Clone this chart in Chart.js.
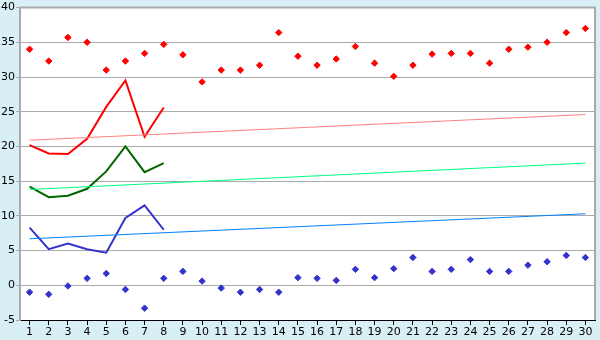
<!DOCTYPE html>
<html>
<head>
<meta charset="utf-8">
<title>chart</title>
<script src="https://cdn.jsdelivr.net/npm/chart.js"></script>
<style>
  html, body { margin: 0; padding: 0; background: #d9eff6; }
  #wrap { width: 600px; height: 340px; }
</style>
</head>
<body>
<div id="wrap"><canvas id="grafico"></canvas></div>
<script>
// categories 1..30
const dias = ['1','2','3','4','5','6','7','8','9','10','11','12','13','14','15',
              '16','17','18','19','20','21','22','23','24','25','26','27','28','29','30'];

// upper red markers
const maxPontos = [34.0, 32.3, 35.7, 35.0, 31.0, 32.3, 33.4, 34.7, 33.2, 29.3,
                   31.0, 31.0, 31.7, 36.4, 33.0, 31.7, 32.6, 34.4, 32.0, 30.1,
                   31.7, 33.3, 33.4, 33.4, 32.0, 34.0, 34.3, 35.0, 36.4, 37.0];
// lower blue markers
const minPontos = [-1.0, -1.3, -0.1, 1.0, 1.7, -0.6, -3.3, 1.0, 2.0, 0.6,
                   -0.4, -1.0, -0.6, -1.0, 1.1, 1.0, 0.7, 2.3, 1.1, 2.4,
                   4.0, 2.0, 2.3, 3.7, 2.0, 2.0, 2.9, 3.4, 4.3, 4.0];

// first eight days
const linhaVermelha = [20.2, 19.0, 18.9, 21.1, 25.7, 29.5, 21.4, 25.6];
const linhaVerde    = [14.2, 12.7, 12.9, 13.9, 16.4, 20.0, 16.3, 17.6];
const linhaAzul     = [8.3, 5.2, 6.0, 5.2, 4.7, 9.7, 11.5, 8.0];

// trend lines: value at first and last category
const tendVermelha = [20.9, 24.6];
const tendVerde    = [13.8, 17.6];
const tendAzul     = [6.7, 10.3];

const yTicks = [-5, 0, 5, 10, 15, 20, 25, 30, 35, 40];

function tendencia(vals) {
    return [{ x: dias[0], y: vals[0] }, { x: dias[dias.length - 1], y: vals[1] }];
}

// white plot area + gray top/right frame
const fundo = {
    id: 'fundo',
    beforeDraw(chart) {
        const { ctx, chartArea: a } = chart;
        ctx.save();
        ctx.fillStyle = '#d9eff6';
        ctx.fillRect(0, 0, chart.width, chart.height);
        ctx.fillStyle = '#ffffff';
        ctx.fillRect(a.left, a.top, a.right - a.left, a.bottom - a.top);
        ctx.restore();
    },
    afterDatasetsDraw(chart) {
        const { ctx, chartArea: a } = chart;
        ctx.save();
        ctx.strokeStyle = '#aaaaaa';
        ctx.lineWidth = 2;
        ctx.beginPath();
        ctx.moveTo(a.left, a.top);
        ctx.lineTo(a.right, a.top);
        ctx.lineTo(a.right, a.bottom);
        ctx.stroke();
        ctx.restore();
    }
};

function pontos(data, cor) {
    return {
        data: data, showLine: false, borderColor: cor, backgroundColor: cor,
        pointStyle: 'rectRot', pointRadius: 3.2, pointBorderWidth: 1
    };
}

function linha(data, cor, largura) {
    return {
        data: data, borderColor: cor, backgroundColor: cor, borderWidth: largura,
        pointRadius: 0, tension: 0, fill: false
    };
}

new Chart(document.getElementById('grafico'), {
    type: 'line',
    data: {
        labels: dias,
        datasets: [
            linha(tendencia(tendVermelha), '#ff8080', 1),
            linha(tendencia(tendVerde), '#00ff80', 1),
            linha(tendencia(tendAzul), '#0080ff', 1),
            linha(linhaVermelha, '#ff0000', 2),
            linha(linhaVerde, '#006600', 2),
            linha(linhaAzul, '#3333cc', 2),
            pontos(maxPontos, '#ff0000'),
            pontos(minPontos, '#3333cc')
        ]
    },
    options: {
        responsive: true,
        maintainAspectRatio: false,
        animation: false,
        layout: { padding: { top: 5, right: 5, left: 0, bottom: 0 } },
        plugins: { legend: { display: false }, tooltip: { enabled: false } },
        scales: {
            x: {
                offset: true,
                grid: { drawOnChartArea: false, offset: false, tickLength: 5, tickColor: '#000000' },
                border: { color: '#000000', width: 1 },
                ticks: {
                    color: '#000000', padding: 1, maxRotation: 0, autoSkip: false,
                    font: { family: 'DejaVu Sans', size: 11 }
                },
                afterFit(scale) { scale.height = 20; }
            },
            y: {
                min: -5, max: 40,
                afterBuildTicks(scale) { scale.ticks = yTicks.map(v => ({ value: v })); },
                grid: { color: '#aaaaaa', tickLength: 4, tickColor: '#aaaaaa' },
                border: { color: '#aaaaaa', width: 2 },
                ticks: {
                    color: '#000000', padding: 1,
                    font: { family: 'DejaVu Sans', size: 11 }
                },
                afterFit(scale) { scale.width = 20; }
            }
        }
    },
    plugins: [fundo]
});
</script>
</body>
</html>
